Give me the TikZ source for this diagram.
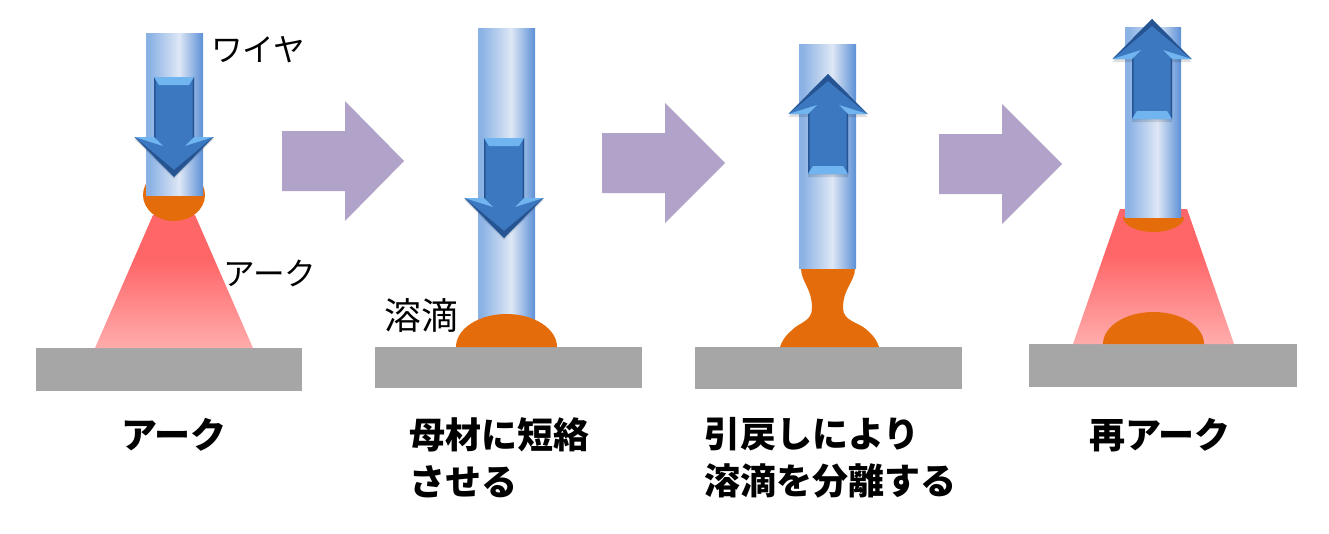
\documentclass[tikz,border=0pt]{standalone}
\usepackage{fontspec}
\newfontfamily\jp{Noto Sans CJK JP}
\definecolor{WireLft}{RGB}{139,178,229}
\definecolor{WireMid}{RGB}{222,231,245}
\definecolor{WireRgt}{RGB}{98,148,216}
\definecolor{ArcTop}{RGB}{255,102,104}
\definecolor{ArcBot}{RGB}{255,172,172}
\definecolor{DropClr}{RGB}{228,108,10}
\definecolor{BaseClr}{RGB}{166,166,166}
\definecolor{StepClr}{RGB}{176,162,200}
\definecolor{ArrMain}{RGB}{60,120,192}
\definecolor{ArrDark}{RGB}{38,84,146}
\definecolor{ArrLite}{RGB}{112,180,240}
\pgfdeclarehorizontalshading{wireshade}{100bp}{
  color(0bp)=(WireLft); color(28bp)=(WireLft); color(54bp)=(WireMid);
  color(74bp)=(WireRgt); color(100bp)=(WireRgt)}
\pgfdeclareverticalshading{arcshade}{100bp}{
  color(0bp)=(ArcBot); color(25bp)=(ArcBot); color(58bp)=(ArcTop); color(100bp)=(ArcTop)}
\tikzset{
  wire/.style={shading=wireshade},
  arcglow/.style={shading=arcshade},
  drop/.style={fill=DropClr},
  plate/.style={fill=BaseClr},
  stepper/.style={fill=StepClr},
  thinlabel/.style={font=\jp\fontsize{18}{20}\selectfont,inner sep=0pt},
  boldlabel/.style={font=\jp\bfseries\fontsize{20.5}{26.6}\selectfont,inner sep=0pt,align=left},
  pics/fatarrow/.style={code={
    \fill[black,opacity=.12,shift={(0,#1)}] (-20,0) -- (20,0) -- (20,60) -- (39.5,60) -- (0,100) -- (-39.5,60) -- (-20,60) -- cycle;
    \fill[ArrMain] (-20,0) -- (20,0) -- (20,60) -- (39.5,60) -- (0,100) -- (-39.5,60) -- (-20,60) -- cycle;
    \fill[ArrLite] (-20,0) -- (20,0) -- (15,8) -- (-15,8) -- cycle;
    \fill[ArrDark] (-20,0) -- (-18.5,4) -- (-18.5,62) -- (-20,60) -- cycle;
    \fill[ArrDark] (20,0) -- (18.5,4) -- (18.5,62) -- (20,60) -- cycle;
    \fill[ArrLite] (39.5,60) -- (20,60) -- (11,69) -- cycle;
    \fill[ArrLite] (-39.5,60) -- (-20,60) -- (-11,69) -- cycle;
    \fill[ArrDark] (39.5,60) -- (0,100) -- (0,93) -- cycle;
    \fill[ArrDark] (-39.5,60) -- (0,100) -- (0,93) -- cycle;
  }}
}

\begin{document}
\begin{tikzpicture}[x=0.02cm,y=-0.02cm]
\useasboundingbox (0,0) rectangle (1329,534);

% base plates
\foreach \xa/\xb/\ya/\yb in {36/302/348/391,375/642/347/388,695/962/347/389,1029/1297/344/387}
  \fill[plate] (\xa,\ya) rectangle (\xb,\yb);

% arcs
\shade[arcglow] (153,215) -- (195,215) -- (253,348) -- (95,348) -- cycle;
\shade[arcglow] (1120,209) -- (1187,209) -- (1234,344) -- (1073,344) -- cycle;

% molten drops
\fill[drop] (174,195) ellipse [x radius=31,y radius=26];
\fill[drop] (855,268) .. controls (855,282) and (843,288) .. (843,308)
  .. controls (843,322) and (860,322) .. (868,331)
  .. controls (874,336) and (877,341) .. (879,347) -- (780,347)
  .. controls (782,341) and (785,336) .. (791,331)
  .. controls (799,322) and (812,322) .. (812,308)
  .. controls (812,288) and (801,282) .. (801,268) -- cycle;
\fill[drop] (1184,217) arc [start angle=0,end angle=180,x radius=30.5,y radius=15] -- cycle;
\fill[drop] (1103,344) arc [start angle=180,end angle=360,x radius=50.5,y radius=32] -- cycle;

% wires
\foreach \xa/\xb/\ya/\yb in {146/203/33/195,478/535/28/320,799/856/44/268,1125/1181/27/217}
  \shade[wire] (\xa,\ya) rectangle (\xb,\yb);

% this drop sits on top of its wire
\fill[drop] (456,347) arc [start angle=180,end angle=360,x radius=50.5,y radius=33] -- cycle;

% motion arrows
\pic at (174,77) {fatarrow=2};
\pic at (504,138) {fatarrow=2};
\pic[yscale=-1] at (828,174) {fatarrow=-3};
\pic[yscale=-1] at (1152,119) {fatarrow=-3};

% step arrows
\foreach \xa/\xb/\xc/\ym in {282/345/404/161,602/665/725/163,939/1002/1062/164}
  \fill[stepper] (\xa,\ym-30) -- (\xb,\ym-30) -- (\xb,\ym-60) -- (\xc,\ym)
    -- (\xb,\ym+60) -- (\xb,\ym+30) -- (\xa,\ym+30) -- cycle;

\node[thinlabel,anchor=west] (wirelbl) at (211,50) {ワイヤ};
\node[thinlabel,anchor=west] (arclbl) at (223,273) {アーク};
\node[thinlabel,anchor=west,font=\jp\fontsize{21}{24}\selectfont] (droplbl) at (384,315) {溶滴};
\node[boldlabel,anchor=center] (stepA) at (174,435) {アーク};
\node[boldlabel,anchor=west] (stepB) at (409,458) {母材に短絡\\させる};
\node[boldlabel,anchor=west] (stepC) at (704,458) {引戻しにより\\溶滴を分離する};
\node[boldlabel,anchor=center] (stepD) at (1160,435) {再アーク};
\end{tikzpicture}
\end{document}
